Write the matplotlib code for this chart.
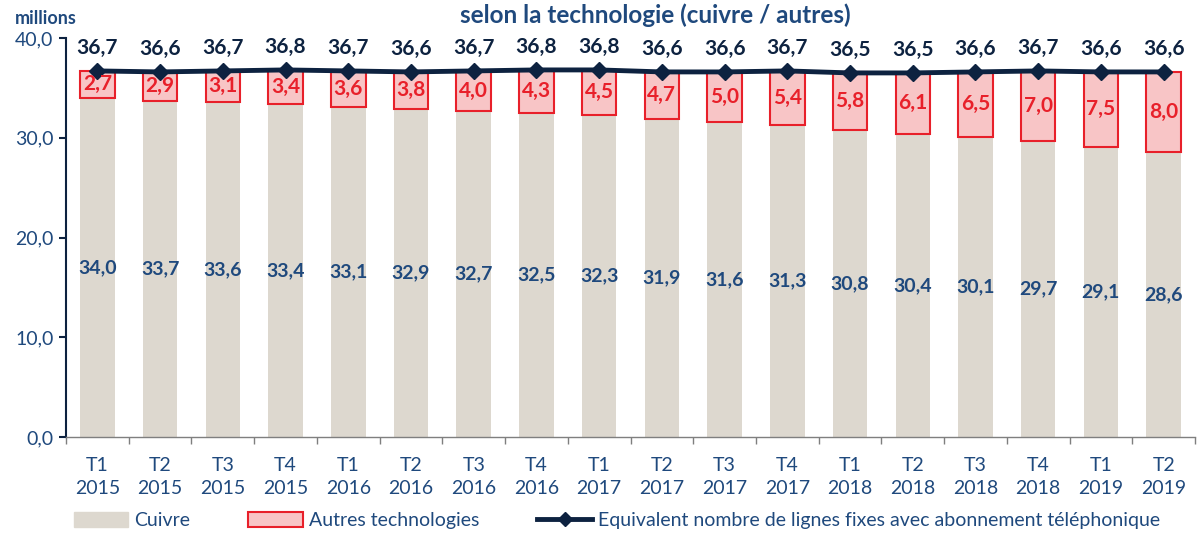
import matplotlib
matplotlib.use("Agg")
import matplotlib.pyplot as plt
import numpy as np
from matplotlib.lines import Line2D
from matplotlib.patches import Patch

# Data
quarters = ["T1", "T2", "T3", "T4", "T1", "T2", "T3", "T4", "T1", "T2", "T3", "T4",
            "T1", "T2", "T3", "T4", "T1", "T2"]
years = ["2015"] * 4 + ["2016"] * 4 + ["2017"] * 4 + ["2018"] * 4 + ["2019"] * 2
cuivre = [34.0, 33.7, 33.6, 33.4, 33.1, 32.9, 32.7, 32.5, 32.3, 31.9, 31.6, 31.3,
          30.8, 30.4, 30.1, 29.7, 29.1, 28.6]
autres = [2.7, 2.9, 3.1, 3.4, 3.6, 3.8, 4.0, 4.3, 4.5, 4.7, 5.0, 5.4,
          5.8, 6.1, 6.5, 7.0, 7.5, 8.0]
total = [36.7, 36.6, 36.7, 36.8, 36.7, 36.6, 36.7, 36.8, 36.8, 36.6, 36.6, 36.7,
         36.5, 36.5, 36.6, 36.7, 36.6, 36.6]

plt.rcParams["font.family"] = ["Lato", "DejaVu Sans"]

BLUE = "#1f497d"
NAVY = "#0d2240"
BEIGE = "#ddd8cf"
PINK = "#f8c5c6"
RED = "#e8202a"


def fmt(v):
    return f"{v:.1f}".replace(".", ",")


fig = plt.figure(figsize=(11.98, 5.33), dpi=100)
ax = fig.add_axes([0.0551, 0.180, 0.9424, 0.7487])

x = np.arange(len(cuivre))
w = 0.55
ax.bar(x, cuivre, width=w, color=BEIGE, zorder=2)
ax.bar(x, autres, width=w, bottom=cuivre, color=PINK, edgecolor=RED, linewidth=1.5, zorder=2)
ax.plot(x, total, color=NAVY, lw=3.5, marker="D", markersize=8, zorder=4)

for i in range(len(x)):
    ax.text(x[i], cuivre[i] / 2, fmt(cuivre[i]), ha="center", va="center",
            color=BLUE, fontsize=14, fontweight="bold", zorder=5)
    ax.text(x[i], cuivre[i] + autres[i] / 2, fmt(autres[i]), ha="center", va="center",
            color=RED, fontsize=15, fontweight="bold", zorder=5)
    ax.text(x[i], total[i] + 1.3, fmt(total[i]), ha="center", va="bottom",
            color=NAVY, fontsize=15, fontweight="bold", zorder=5)

ax.set_xlim(-0.5, len(x) - 0.5)
ax.set_ylim(0, 40)
ax.set_yticks([0, 10, 20, 30, 40])
ax.set_yticklabels([fmt(v) for v in [0, 10, 20, 30, 40]], color=BLUE, fontsize=14)
ax.set_xticks(x)
ax.set_xticklabels([f"{q}\n{y}" for q, y in zip(quarters, years)], color=BLUE,
                   fontsize=14, linespacing=1.45)
ax.set_xticks(np.arange(-0.5, len(x), 1), minor=True)
ax.tick_params(axis="x", which="major", length=0, pad=14)
ax.tick_params(axis="x", which="minor", length=5, color="#7f7f7f", width=1)
ax.tick_params(axis="y", length=5, color=NAVY, width=1.5, pad=4)

for side in ["top", "right"]:
    ax.spines[side].set_visible(False)
ax.spines["left"].set_color(NAVY)
ax.spines["left"].set_linewidth(1.5)
ax.spines["bottom"].set_color("#7f7f7f")
ax.spines["bottom"].set_linewidth(1)

fig.text(0.547, 0.972, "selon la technologie (cuivre / autres)", ha="center", va="center",
         color=BLUE, fontsize=17.5, fontweight="bold")
fig.text(0.012, 0.965, "millions", ha="left", va="center", color=BLUE,
         fontsize=13, fontweight="bold")

handles = [
    Patch(facecolor=BEIGE, edgecolor=BEIGE),
    Patch(facecolor=PINK, edgecolor=RED, linewidth=1.5),
    Line2D([0], [0], color=NAVY, lw=3.5, marker="D", markersize=7),
]
labels = ["Cuivre", "Autres technologies",
          "Equivalent nombre de lignes fixes avec abonnement téléphonique"]
fig.legend(handles, labels, loc="lower left", bbox_to_anchor=(0.047, -0.025), ncol=3,
           frameon=False, fontsize=14, labelcolor=BLUE, handlelength=2.8,
           handleheight=0.8, handletextpad=0.3, columnspacing=3.0)

fig.savefig("out.png", dpi=100)
